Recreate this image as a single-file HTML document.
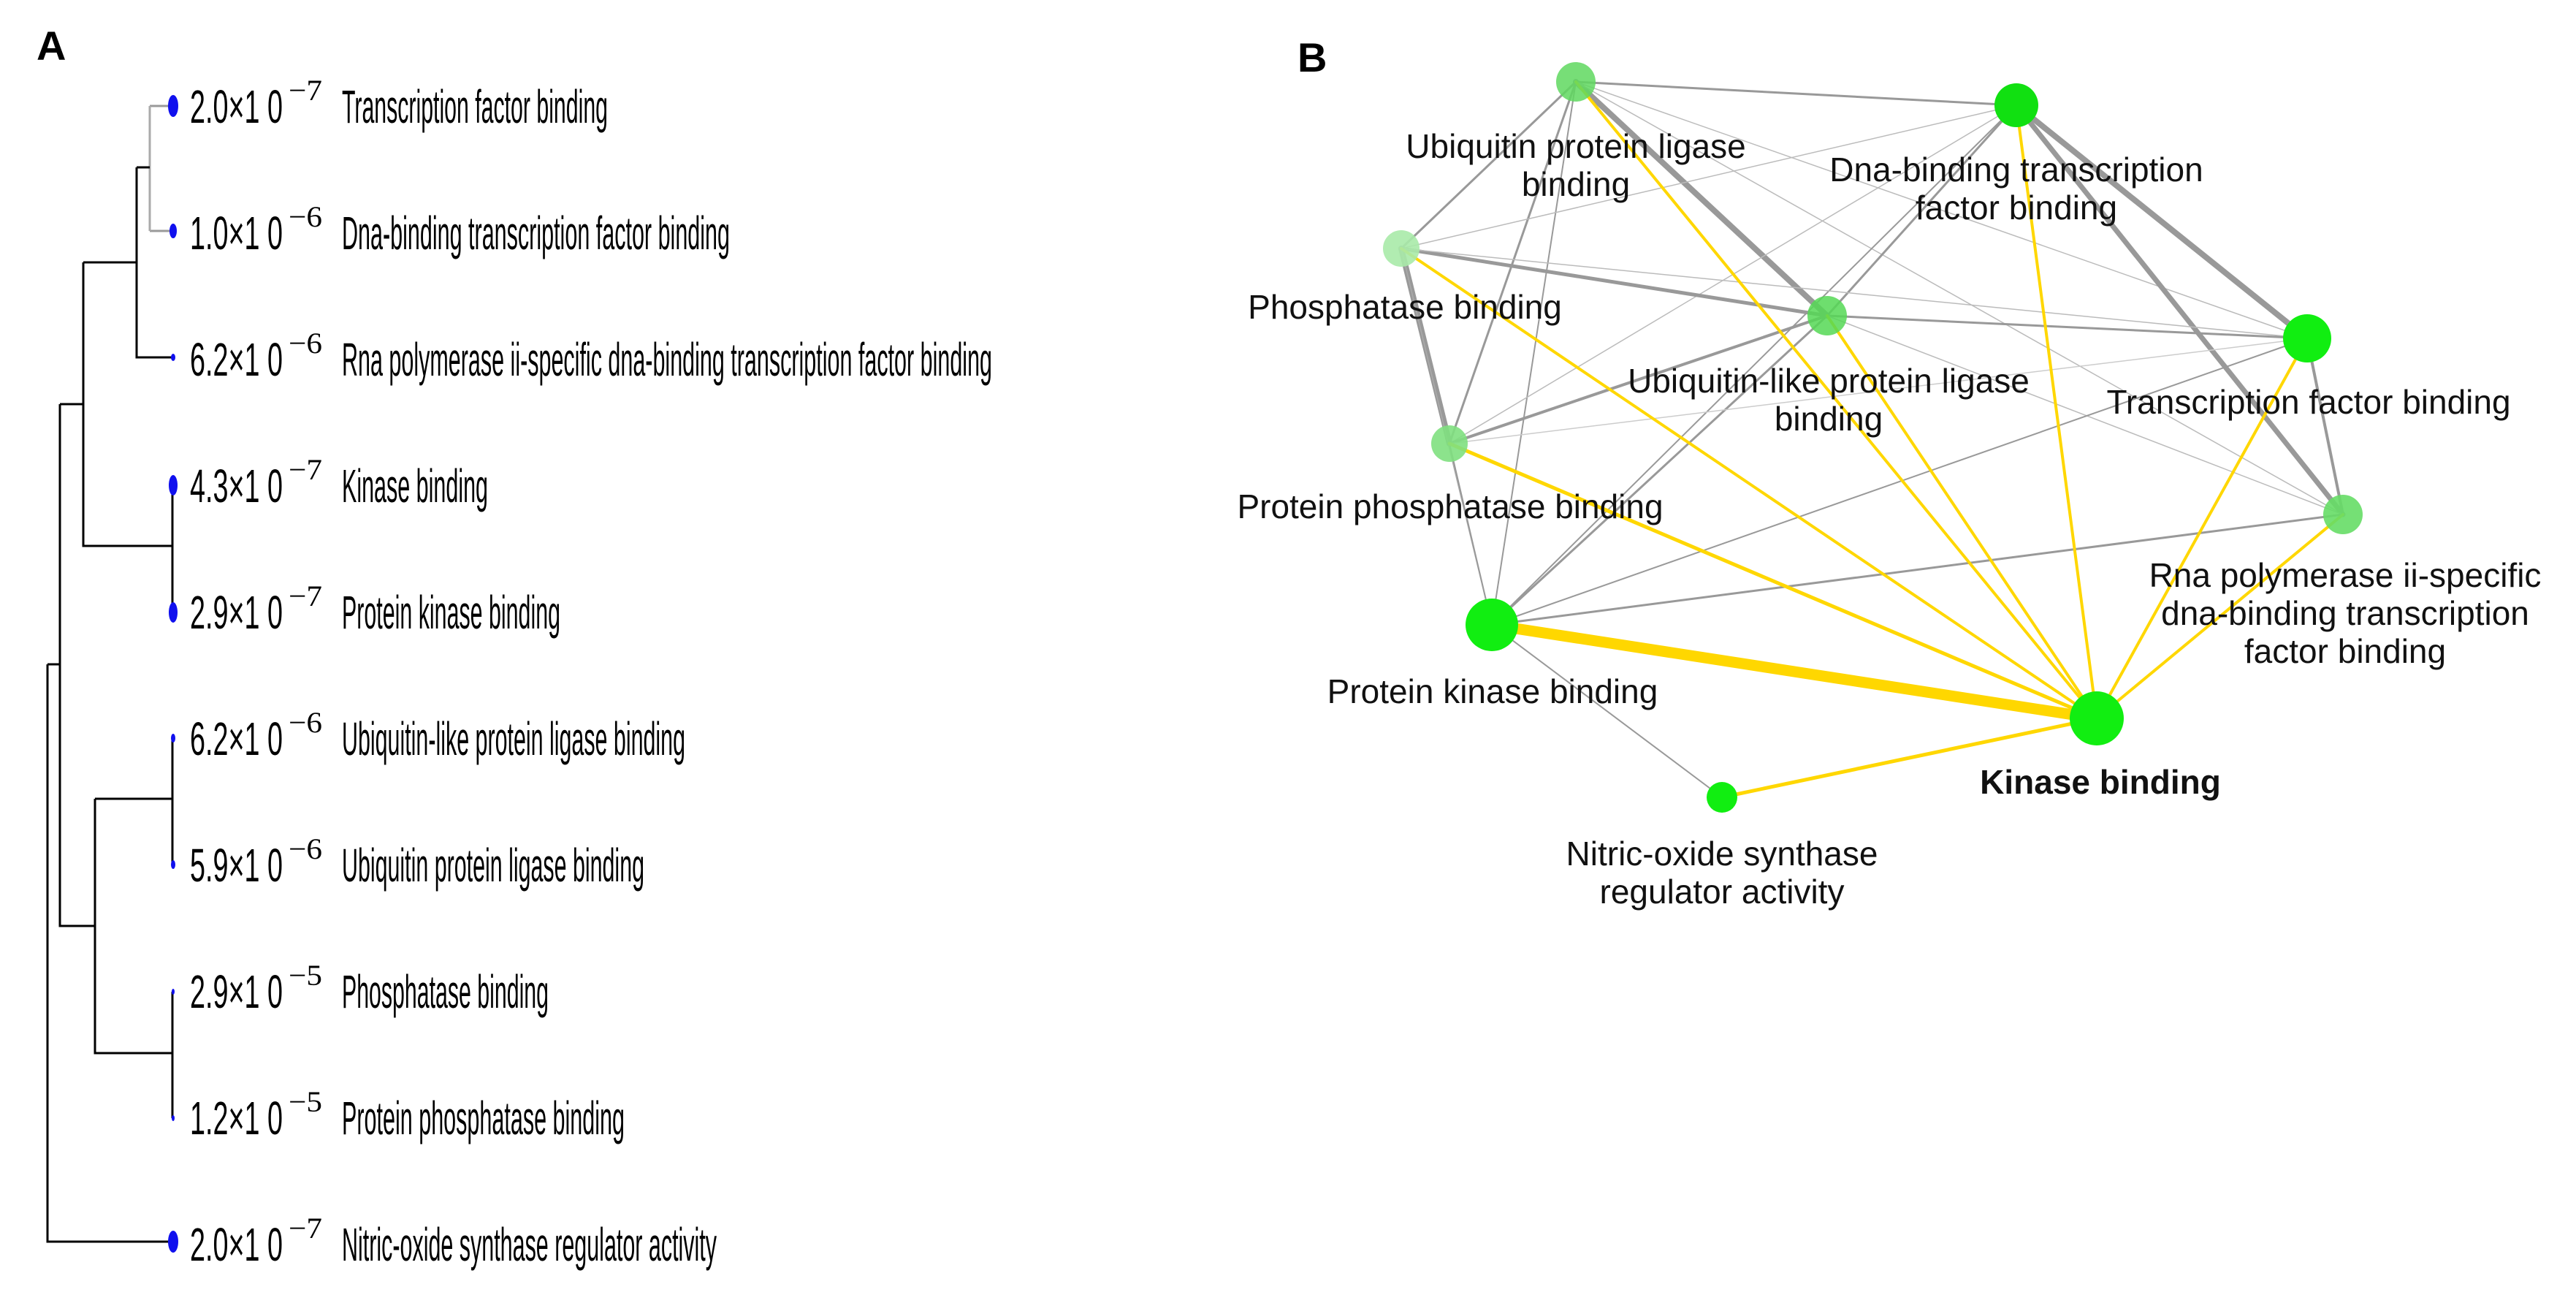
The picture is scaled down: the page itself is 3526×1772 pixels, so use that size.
<!DOCTYPE html>
<html><head><meta charset="utf-8"><style>
html,body{margin:0;padding:0;background:#fff;}
svg{display:block;}
</style></head><body>
<svg width="3526" height="1772" viewBox="0 0 3526 1772" xmlns="http://www.w3.org/2000/svg">
<rect width="3526" height="1772" fill="#fff"/>
<text x="50" y="82" font-family="Liberation Sans, sans-serif" font-weight="bold" font-size="56">A</text>
<text x="1776" y="98" font-family="Liberation Sans, sans-serif" font-weight="bold" font-size="56">B</text>

<g stroke="#000" stroke-width="3" fill="none">
<path d="M205,145 H236 M205,316 H236" stroke="#999"/>
<path d="M205,145 V316" stroke="#aaa"/>
<path d="M187,229 H205 M187,229 V489 H236"/>
<path d="M114,359 H187 M114,359 V747 H236"/>
<path d="M236,664 V838"/>
<path d="M82,553 H114 M82,553 V1267 H130"/>
<path d="M130,1093 H236 M236,1010 V1183"/>
<path d="M130,1093 V1441 H236 M236,1357 V1530"/>
<path d="M65,909 H82 M65,909 V1699 H236"/>
</g>
<g fill="#1010ee">
<ellipse cx="237" cy="145" rx="7" ry="15"/>
<ellipse cx="237" cy="316" rx="5" ry="10"/>
<ellipse cx="237" cy="489" rx="3" ry="5"/>
<ellipse cx="237" cy="664" rx="6" ry="14"/>
<ellipse cx="237" cy="838" rx="6" ry="14"/>
<ellipse cx="237" cy="1010" rx="3" ry="6"/>
<ellipse cx="237" cy="1183" rx="3" ry="6"/>
<ellipse cx="237" cy="1357" rx="2" ry="4"/>
<ellipse cx="237" cy="1530" rx="2" ry="4"/>
<ellipse cx="237" cy="1699" rx="7" ry="15"/>
</g>
<g font-family="Liberation Sans, sans-serif" font-size="64" fill="#000">
<text x="260" y="168" textLength="127" lengthAdjust="spacingAndGlyphs">2.0×1 0</text>
<text x="260" y="341" textLength="127" lengthAdjust="spacingAndGlyphs">1.0×1 0</text>
<text x="260" y="514" textLength="127" lengthAdjust="spacingAndGlyphs">6.2×1 0</text>
<text x="260" y="687" textLength="127" lengthAdjust="spacingAndGlyphs">4.3×1 0</text>
<text x="260" y="860" textLength="127" lengthAdjust="spacingAndGlyphs">2.9×1 0</text>
<text x="260" y="1033" textLength="127" lengthAdjust="spacingAndGlyphs">6.2×1 0</text>
<text x="260" y="1206" textLength="127" lengthAdjust="spacingAndGlyphs">5.9×1 0</text>
<text x="260" y="1379" textLength="127" lengthAdjust="spacingAndGlyphs">2.9×1 0</text>
<text x="260" y="1552" textLength="127" lengthAdjust="spacingAndGlyphs">1.2×1 0</text>
<text x="260" y="1725" textLength="127" lengthAdjust="spacingAndGlyphs">2.0×1 0</text>
<g font-size="40" font-family="Liberation Serif, serif">
<text x="395" y="137" textLength="46" lengthAdjust="spacingAndGlyphs">−7</text>
<text x="395" y="310" textLength="46" lengthAdjust="spacingAndGlyphs">−6</text>
<text x="395" y="483" textLength="46" lengthAdjust="spacingAndGlyphs">−6</text>
<text x="395" y="656" textLength="46" lengthAdjust="spacingAndGlyphs">−7</text>
<text x="395" y="829" textLength="46" lengthAdjust="spacingAndGlyphs">−7</text>
<text x="395" y="1002" textLength="46" lengthAdjust="spacingAndGlyphs">−6</text>
<text x="395" y="1175" textLength="46" lengthAdjust="spacingAndGlyphs">−6</text>
<text x="395" y="1348" textLength="46" lengthAdjust="spacingAndGlyphs">−5</text>
<text x="395" y="1521" textLength="46" lengthAdjust="spacingAndGlyphs">−5</text>
<text x="395" y="1694" textLength="46" lengthAdjust="spacingAndGlyphs">−7</text>
</g>
<text x="468" y="168" textLength="364" lengthAdjust="spacingAndGlyphs">Transcription factor binding</text>
<text x="468" y="341" textLength="531" lengthAdjust="spacingAndGlyphs">Dna-binding transcription factor binding</text>
<text x="468" y="514" textLength="890" lengthAdjust="spacingAndGlyphs">Rna polymerase ii-specific dna-binding transcription factor binding</text>
<text x="468" y="687" textLength="200" lengthAdjust="spacingAndGlyphs">Kinase binding</text>
<text x="468" y="860" textLength="299" lengthAdjust="spacingAndGlyphs">Protein kinase binding</text>
<text x="468" y="1033" textLength="470" lengthAdjust="spacingAndGlyphs">Ubiquitin-like protein ligase binding</text>
<text x="468" y="1206" textLength="414" lengthAdjust="spacingAndGlyphs">Ubiquitin protein ligase binding</text>
<text x="468" y="1379" textLength="283" lengthAdjust="spacingAndGlyphs">Phosphatase binding</text>
<text x="468" y="1552" textLength="387" lengthAdjust="spacingAndGlyphs">Protein phosphatase binding</text>
<text x="468" y="1725" textLength="513" lengthAdjust="spacingAndGlyphs">Nitric-oxide synthase regulator activity</text>
</g>

<g stroke="#999" fill="none" stroke-linecap="round">
<line x1="2157" y1="112" x2="2760" y2="144" stroke-width="3"/>
<line x1="2157" y1="112" x2="1918" y2="340" stroke-width="3"/>
<line x1="2157" y1="112" x2="2501" y2="432" stroke-width="8"/>
<line x1="2157" y1="112" x2="1984" y2="607" stroke-width="3"/>
<line x1="2157" y1="112" x2="2042" y2="855" stroke-width="2"/>
<line x1="2157" y1="112" x2="3158" y2="463" stroke-width="1.5" stroke="#bbb"/>
<line x1="2157" y1="112" x2="3207" y2="704" stroke-width="1.5" stroke="#bbb"/>
<line x1="2760" y1="144" x2="3158" y2="463" stroke-width="8"/>
<line x1="2760" y1="144" x2="3207" y2="704" stroke-width="7"/>
<line x1="2760" y1="144" x2="1918" y2="340" stroke-width="1.5" stroke="#bbb"/>
<line x1="2760" y1="144" x2="2501" y2="432" stroke-width="3"/>
<line x1="2760" y1="144" x2="2042" y2="855" stroke-width="2"/>
<line x1="2760" y1="144" x2="1984" y2="607" stroke-width="1.5" stroke="#bbb"/>
<line x1="1918" y1="340" x2="2501" y2="432" stroke-width="5"/>
<line x1="1918" y1="340" x2="3158" y2="463" stroke-width="1.5" stroke="#bbb"/>
<line x1="1918" y1="340" x2="1984" y2="607" stroke-width="8"/>
<line x1="1918" y1="340" x2="2042" y2="855" stroke-width="1.5" stroke="#aaa"/>
<line x1="2501" y1="432" x2="3158" y2="463" stroke-width="3"/>
<line x1="2501" y1="432" x2="1984" y2="607" stroke-width="4"/>
<line x1="2501" y1="432" x2="2042" y2="855" stroke-width="3"/>
<line x1="2501" y1="432" x2="3207" y2="704" stroke-width="1.5" stroke="#bbb"/>
<line x1="3158" y1="463" x2="3207" y2="704" stroke-width="4"/>
<line x1="3158" y1="463" x2="1984" y2="607" stroke-width="1.5" stroke="#ccc"/>
<line x1="3158" y1="463" x2="2042" y2="855" stroke-width="2"/>
<line x1="3207" y1="704" x2="2042" y2="855" stroke-width="3"/>
<line x1="2042" y1="855" x2="1984" y2="607" stroke-width="2"/>
<line x1="2042" y1="855" x2="2357" y2="1091" stroke-width="2"/>
</g>
<g stroke="#ffd700" fill="none" stroke-linecap="round">
<line x1="2870" y1="983" x2="2042" y2="855" stroke-width="15"/>
<line x1="2870" y1="983" x2="2157" y2="112" stroke-width="4"/>
<line x1="2870" y1="983" x2="2501" y2="432" stroke-width="4"/>
<line x1="2870" y1="983" x2="2760" y2="144" stroke-width="4"/>
<line x1="2870" y1="983" x2="3158" y2="463" stroke-width="4"/>
<line x1="2870" y1="983" x2="3207" y2="704" stroke-width="4"/>
<line x1="2870" y1="983" x2="1918" y2="340" stroke-width="4"/>
<line x1="2870" y1="983" x2="1984" y2="607" stroke-width="5"/>
<line x1="2870" y1="983" x2="2357" y2="1091" stroke-width="5"/>
</g>
<g>
<circle cx="2157" cy="112" r="27" fill="#5fd85f" opacity="0.85"/>
<circle cx="2760" cy="144" r="30" fill="#11e011"/>
<circle cx="1918" cy="340" r="25" fill="#a8eaa8" opacity="0.9"/>
<circle cx="2501" cy="432" r="27" fill="#55d855" opacity="0.85"/>
<circle cx="3158" cy="463" r="33" fill="#11ee11"/>
<circle cx="1984" cy="607" r="25" fill="#80e080" opacity="0.9"/>
<circle cx="3207" cy="704" r="27" fill="#66dd66" opacity="0.9"/>
<circle cx="2042" cy="855" r="36" fill="#11ee11"/>
<circle cx="2870" cy="983" r="37" fill="#11ee11"/>
<circle cx="2357" cy="1091" r="21" fill="#11ee11"/>
</g>
<g font-family="Liberation Sans, sans-serif" font-size="46" fill="#111" text-anchor="middle">
<text x="2157" y="216">Ubiquitin protein ligase</text>
<text x="2157" y="268">binding</text>
<text x="2760" y="248">Dna-binding transcription</text>
<text x="2760" y="300">factor binding</text>
<text x="1923" y="436">Phosphatase binding</text>
<text x="2503" y="537">Ubiquitin-like protein ligase</text>
<text x="2503" y="589">binding</text>
<text x="3160" y="566">Transcription factor binding</text>
<text x="1985" y="709">Protein phosphatase binding</text>
<text x="3210" y="803">Rna polymerase ii-specific</text>
<text x="3210" y="855">dna-binding transcription</text>
<text x="3210" y="907">factor binding</text>
<text x="2043" y="962">Protein kinase binding</text>
<text x="2875" y="1086" font-weight="bold">Kinase binding</text>
<text x="2357" y="1184">Nitric-oxide synthase</text>
<text x="2357" y="1236">regulator activity</text>
</g>
</svg>
</body></html>
